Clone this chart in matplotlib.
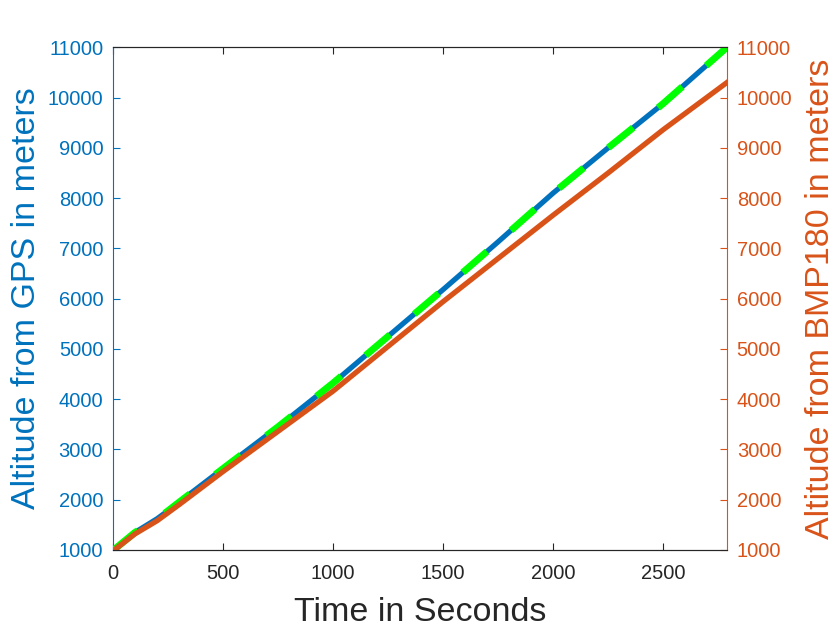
import numpy as np
import matplotlib
matplotlib.use("Agg")
import matplotlib.pyplot as plt

plt.rcParams['font.family'] = ['Liberation Sans', 'DejaVu Sans']

# time in seconds
t = [0, 100, 200, 250, 300, 500, 750, 1000, 1250, 1500, 1750, 2000, 2250, 2500, 2790]
# altitude from GPS (m)
gps = [990, 1350, 1620, 1780, 1950, 2620, 3450, 4320, 5250, 6180, 7130, 8100, 9000, 9880, 11000]
# altitude from BMP180 (m)
bmp = [980, 1320, 1580, 1740, 1900, 2560, 3360, 4160, 5050, 5940, 6800, 7660, 8500, 9360, 10300]

blue = '#0072BD'
orange = '#D95319'
green = '#00FF00'

fig = plt.figure(figsize=(8.4, 6.3), dpi=100)
ax1 = fig.add_axes([0.1345, 0.127, 0.731, 0.798])
ax2 = ax1.twinx()

ax1.plot(t, gps, color=blue, lw=3.8)
ax2.plot(t, gps, color=green, lw=5, dashes=(4.6, 4.6))
ax2.plot(t, bmp, color=orange, lw=3.8)

for ax in (ax1, ax2):
    ax.set_xlim(0, 2790)
    ax.set_ylim(1000, 11000)
    ax.set_yticks(np.arange(1000, 11001, 1000))
    ax.tick_params(direction='in', length=5, labelsize=14.5)

ax1.set_xticks([0, 500, 1000, 1500, 2000, 2500])
ax1.tick_params(axis='x', top=True, colors='#262626', pad=10)
ax1.tick_params(axis='y', colors=blue, pad=7)
ax2.tick_params(axis='y', colors=orange, pad=7)

ax1.spines['left'].set_color(blue)
ax2.spines['left'].set_visible(False)
ax2.spines['right'].set_color(orange)
ax1.spines['right'].set_visible(False)
for ax in (ax1, ax2):
    ax.spines['top'].set_color('#262626')
    ax.spines['bottom'].set_color('#262626')

ax1.set_xlabel('Time in Seconds', fontsize=24.5, color='#262626', labelpad=10)
ax1.set_ylabel('Altitude from GPS in meters', fontsize=24.5, color=blue, labelpad=4)
ax2.set_ylabel('Altitude from BMP180 in meters', fontsize=24.5, color=orange, labelpad=9)

fig.savefig('out.png', dpi=100)
